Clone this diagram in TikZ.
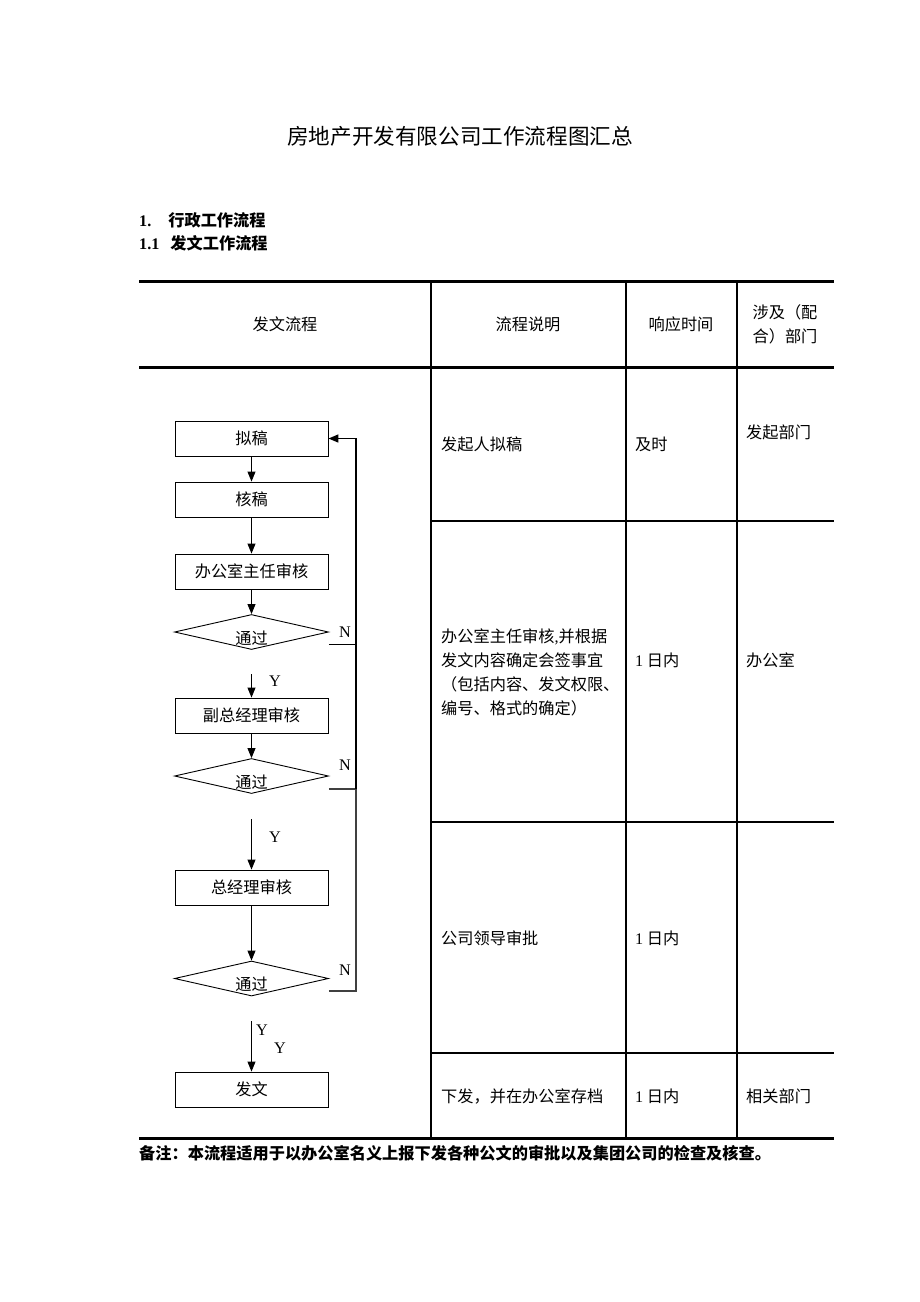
\documentclass[tikz,border=0pt]{standalone}
\usepackage{fontspec}
\setmainfont{Noto Sans CJK SC}
\newfontfamily\lat{Liberation Serif}
\usetikzlibrary{arrows.meta,shapes.geometric}
\newcommand{\fs}{\fontsize{16.2pt}{24pt}\selectfont}
\begin{document}
\begin{tikzpicture}[x=1pt,y=-1pt,
  every node/.style={inner sep=0pt,font=\fs},
  box/.style={draw,line width=0.9pt,minimum width=153pt,minimum height=35pt},
  dia/.style={draw,diamond,aspect=4.4,line width=0.9pt,minimum width=154pt,minimum height=35pt},
  tip/.style={-{Triangle[length=10pt,width=8pt]}},
  arr/.style={line width=0.9pt,tip},
  fbline/.style={line width=1.6pt},
  fbthin/.style={line width=1.1pt,black!75},
  tline/.style={line width=2.6pt},
  tthick/.style={line width=3pt},
  lbl/.style={font=\fs\lat},
  cell/.style={anchor=west,align=left}
]
\useasboundingbox (0,0) rectangle (920,1302);

% title and headings
\node (title) at (460,136) {\fontsize{21.6pt}{26pt}\selectfont 房地产开发有限公司工作流程图汇总};
\node[anchor=west] (h1) at (139,220) {{\lat\bfseries 1.}\hspace{17pt}\bfseries 行政工作流程};
\node[anchor=west] (h2) at (139,243) {{\lat\bfseries 1.1}\hspace{11pt}\bfseries 发文工作流程};

% table lines
\draw[tthick] (139,281) -- (834,281);
\draw[tthick] (139,367) -- (834,367);
\draw[tthick] (139,1138) -- (834,1138);
\foreach \x in {431,626,737} \draw[tline] (\x,281) -- (\x,1138);
\foreach \y in {521,822,1053} \draw[tline] (431,\y) -- (834,\y);

% header
\node (hd1) at (285,324) {发文流程};
\node (hd2) at (528,324) {流程说明};
\node (hd3) at (681,324) {响应时间};
\node[align=center] (hd4) at (785,324) {涉及（配\\合）部门};

% rows
\node[cell] (r1a) at (441,444) {发起人拟稿};
\node[cell] (r1b) at (635,444) {及时};
\node[cell] (r1c) at (746,432) {发起部门};
\node[cell] (r2a) at (441,672) {办公室主任审核{\lat ,}并根据\\发文内容确定会签事宜\\（包括内容、发文权限、\\编号、格式的确定）};
\node[cell] (r2b) at (635,660) {{\lat 1} 日内};
\node[cell] (r2c) at (746,660) {办公室};
\node[cell] (r3a) at (441,938) {公司领导审批};
\node[cell] (r3b) at (635,938) {{\lat 1} 日内};
\node[cell] (r4a) at (441,1096) {下发，并在办公室存档};
\node[cell] (r4b) at (635,1096) {{\lat 1} 日内};
\node[cell] (r4c) at (746,1096) {相关部门};

% footnote
\node[anchor=west] (note) at (139,1153) {\bfseries 备注：本流程适用于以办公室名义上报下发各种公文的审批以及集团公司的检查及核查。};

% flowchart nodes
\node[box] (b1) at (251.5,438.5) {拟稿};
\node[box] (b2) at (251.5,499.5) {核稿};
\node[box] (b3) at (251.5,571.5) {办公室主任审核};
\node[dia] (d1) at (251.5,632) {};
\node (t1) at (251.5,638) {通过};
\node[box] (b4) at (251.5,715.5) {副总经理审核};
\node[dia] (d2) at (251.5,776) {};
\node (t2) at (251.5,782) {通过};
\node[box] (b5) at (251.5,887.5) {总经理审核};
\node[dia] (d3) at (251.5,978.5) {};
\node (t3) at (251.5,984) {通过};
\node[box] (b6) at (251.5,1089.5) {发文};

\coordinate (y1) at (251.5,674);
\coordinate (y2) at (251.5,819);
\coordinate (y3) at (251.5,1021);
\coordinate (n1) at (356,644);
\coordinate (n2) at (356,789);
\coordinate (n3) at (356,991);
\coordinate (top) at (356,438.5);

% arrows
\draw[arr] (b1) -- (b2);
\draw[arr] (b2) -- (b3);
\draw[arr] (b3) -- (d1);
\draw[arr] (y1) -- (b4);
\draw[arr] (b4) -- (d2);
\draw[arr] (y2) -- (b5);
\draw[arr] (b5) -- (d3);
\draw[arr] (y3) -- (b6);

% feedback
\draw[fbthin] (d3.east) ++(0,12.5) -- (n3) -- (n2);
\draw[fbthin] (d2.east) ++(0,13) -- (n2);
\draw[line width=0.9pt] (d1.east) ++(0,12) -- (n1);
\draw[fbline,tip] (n2) -- (top) -- (b1.east);

% labels
\node[lbl] (N1) at (345,632) {N};
\node[lbl] (N2) at (345,765) {N};
\node[lbl] (N3) at (345,970) {N};
\node[lbl] (Y1) at (275,681) {Y};
\node[lbl] (Y2) at (275,837) {Y};
\node[lbl] (Y3) at (262,1030) {Y};
\node[lbl] (Y4) at (280,1048) {Y};
\end{tikzpicture}
\end{document}
